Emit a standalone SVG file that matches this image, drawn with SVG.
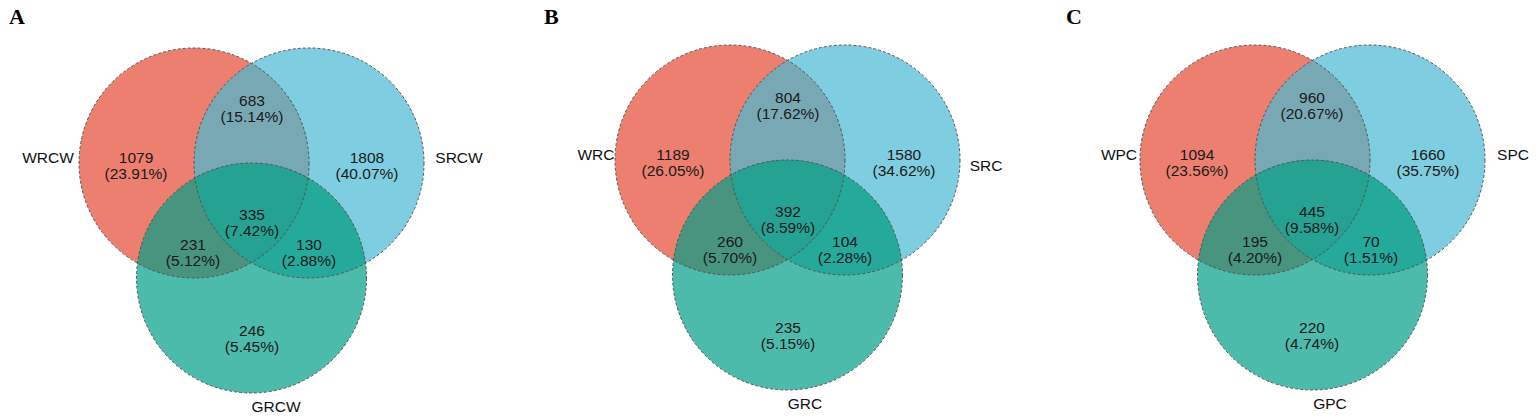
<svg xmlns="http://www.w3.org/2000/svg" width="1536" height="419" viewBox="0 0 1536 419">
<style>
.t{font-family:"Liberation Sans",Arial,sans-serif;font-size:15.5px;fill:#1a1a1a;text-anchor:middle}
.lab{font-family:"Liberation Sans",Arial,sans-serif;font-size:15.5px;fill:#111;text-anchor:middle}
.pl{font-family:"Liberation Serif","Times New Roman",serif;font-size:22px;font-weight:bold;fill:#000}
.o{fill:none;stroke:#555;stroke-width:1;stroke-dasharray:3 2}
.r{fill:#EC7F70}.b{fill:#7ECDE0}.g{fill:#4DBBAB}
.rb{fill:#79A8B5}.rg{fill:#48947F}.bg{fill:#24A99A}.rbg{fill:#26A293}
</style>
<defs>
<clipPath id="cR" clipPathUnits="userSpaceOnUse"><circle cx="0" cy="0" r="115"/></clipPath>
<clipPath id="cB" clipPathUnits="userSpaceOnUse"><circle cx="115" cy="0" r="115"/></clipPath>
<g id="venn">
<circle class="r" cx="0" cy="0" r="115"/>
<circle class="b" cx="115" cy="0" r="115"/>
<circle class="g" cx="57.5" cy="115" r="115"/>
<g clip-path="url(#cR)"><circle class="rb" cx="115" cy="0" r="115"/><circle class="rg" cx="57.5" cy="115" r="115"/></g>
<g clip-path="url(#cB)"><circle class="bg" cx="57.5" cy="115" r="115"/></g>
<g clip-path="url(#cR)"><g clip-path="url(#cB)"><circle class="rbg" cx="57.5" cy="115" r="115"/></g></g>
<circle class="o" cx="0" cy="0" r="115"/>
<circle class="o" cx="115" cy="0" r="115"/>
<circle class="o" cx="57.5" cy="115" r="115"/>
</g>
</defs>

<g id="panelA">
<text class="pl" x="9" y="24">A</text>
<g transform="translate(194,163)">
<use href="#venn"/>
<text class="t" x="58" y="-57">683</text><text class="t" x="58" y="-41">(15.14%)</text>
<text class="t" x="-58" y="0">1079</text><text class="t" x="-58" y="16">(23.91%)</text>
<text class="t" x="173" y="0">1808</text><text class="t" x="173" y="16">(40.07%)</text>
<text class="t" x="58" y="57">335</text><text class="t" x="58" y="73">(7.42%)</text>
<text class="t" x="-1" y="87">231</text><text class="t" x="-1" y="103">(5.12%)</text>
<text class="t" x="115" y="87">130</text><text class="t" x="115" y="103">(2.88%)</text>
<text class="t" x="58" y="173">246</text><text class="t" x="58" y="189">(5.45%)</text>
</g>
<text class="lab" x="48" y="163">WRCW</text>
<text class="lab" x="459" y="163">SRCW</text>
<text class="lab" x="276" y="412">GRCW</text>
</g>

<g id="panelB">
<text class="pl" x="544" y="24">B</text>
<g transform="translate(730,160)">
<use href="#venn"/>
<text class="t" x="58" y="-57">804</text><text class="t" x="58" y="-41">(17.62%)</text>
<text class="t" x="-57" y="0">1189</text><text class="t" x="-57" y="16">(26.05%)</text>
<text class="t" x="174" y="0">1580</text><text class="t" x="174" y="16">(34.62%)</text>
<text class="t" x="58" y="57">392</text><text class="t" x="58" y="73">(8.59%)</text>
<text class="t" x="0" y="87">260</text><text class="t" x="0" y="103">(5.70%)</text>
<text class="t" x="115" y="87">104</text><text class="t" x="115" y="103">(2.28%)</text>
<text class="t" x="58" y="173">235</text><text class="t" x="58" y="189">(5.15%)</text>
</g>
<text class="lab" x="596" y="160">WRC</text>
<text class="lab" x="986" y="171">SRC</text>
<text class="lab" x="805" y="409">GRC</text>
</g>

<g id="panelC">
<text class="pl" x="1066" y="24">C</text>
<g transform="translate(1255,160)">
<use href="#venn"/>
<text class="t" x="57" y="-57">960</text><text class="t" x="57" y="-41">(20.67%)</text>
<text class="t" x="-58" y="0">1094</text><text class="t" x="-58" y="16">(23.56%)</text>
<text class="t" x="173" y="0">1660</text><text class="t" x="173" y="16">(35.75%)</text>
<text class="t" x="57" y="57">445</text><text class="t" x="57" y="73">(9.58%)</text>
<text class="t" x="0" y="87">195</text><text class="t" x="0" y="103">(4.20%)</text>
<text class="t" x="116" y="87">70</text><text class="t" x="116" y="103">(1.51%)</text>
<text class="t" x="57" y="173">220</text><text class="t" x="57" y="189">(4.74%)</text>
</g>
<text class="lab" x="1119" y="160">WPC</text>
<text class="lab" x="1513" y="160">SPC</text>
<text class="lab" x="1330" y="409">GPC</text>
</g>
<g id="connectors"/>
</svg>
